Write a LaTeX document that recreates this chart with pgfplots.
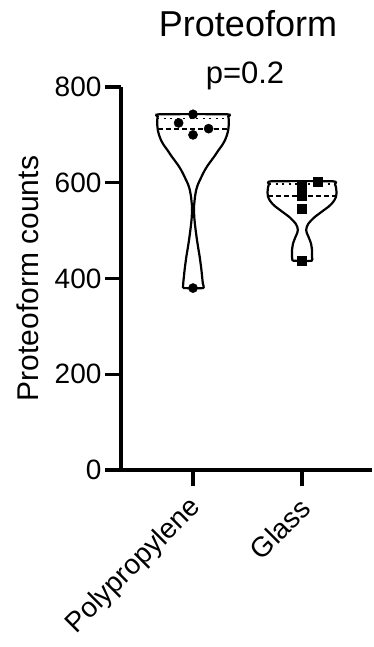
\documentclass[border=0pt]{standalone}
\usepackage{fontspec}
\setmainfont{Liberation Sans}
\usepackage{pgfplots}
\pgfplotsset{compat=1.18}
\begin{document}
\begin{tikzpicture}
\useasboundingbox (-121pt,-177pt) rectangle (253pt,470pt);
\begin{axis}[
  at={(0pt,0pt)}, anchor=south west,
  scale only axis, width=251pt, height=383pt,
  xmin=-0.6606, xmax=1.642, ymin=0, ymax=800,
  axis x line*=bottom, axis y line*=left,
  axis line style={line width=3.2pt, black},
  xtick={0,1}, xticklabels={Polypropylene,Glass},
  ytick={0,200,400,600,800},
  tick align=outside, major tick length=16pt,
  major tick style={line width=3.2pt, black},
  tick label style={font=\fontsize{28}{33}\selectfont},
  /pgf/number format/assume math mode=true,
  xticklabel style={xshift=6pt, yshift=-15pt, rotate=45, anchor=east},
  every axis y label/.style={at={(axis description cs:-0.3705,0.5)}, rotate=90, anchor=center},
  ylabel={Proteoform counts},
  ylabel style={font=\fontsize{30}{35}\selectfont},
  clip=false,
]
% Polypropylene violin
\addplot[black, line width=2.2pt, smooth, tension=0.3] coordinates {
(-0.0917,380) (-0.0899,390) (-0.0853,400) (-0.0761,420) (-0.0615,445) (-0.0505,460)
(-0.0367,480) (-0.0248,500) (-0.0165,516) (-0.0110,530) (-0.0092,550) (-0.0183,571)
(-0.0294,585) (-0.0440,596) (-0.0642,606) (-0.0872,617) (-0.1101,627) (-0.1376,637)
(-0.1697,647) (-0.2018,657) (-0.2339,668) (-0.2661,678) (-0.2936,689) (-0.3119,700)
(-0.3229,710) (-0.3275,720) (-0.3284,731) (-0.3239,738) (-0.3119,743)
(0.3119,743) (0.3239,738) (0.3284,731) (0.3275,720) (0.3229,710) (0.3119,700)
(0.2936,689) (0.2661,678) (0.2339,668) (0.2018,657) (0.1697,647) (0.1376,637)
(0.1101,627) (0.0872,617) (0.0642,606) (0.0440,596) (0.0294,585) (0.0183,571)
(0.0092,550) (0.0110,530) (0.0165,516) (0.0248,500) (0.0367,480) (0.0505,460)
(0.0615,445) (0.0761,420) (0.0853,400) (0.0899,390) (0.0917,380) (-0.0917,380)
};
% Glass violin
\addplot[black, line width=2.2pt, smooth, tension=0.3] coordinates {
(0.9128,437) (0.9083,445) (0.9083,459) (0.9174,473) (0.9404,487) (0.9560,495)
(0.9615,501) (0.9560,508) (0.9404,515) (0.9128,522) (0.8807,529) (0.8394,536)
(0.7982,543) (0.7569,550) (0.7248,557) (0.7018,564) (0.6881,571) (0.6835,580)
(0.6881,590) (0.6972,597) (0.7156,603)
(1.2844,603) (1.3028,597) (1.3119,590) (1.3165,580) (1.3119,571) (1.2982,564)
(1.2752,557) (1.2431,550) (1.2018,543) (1.1606,536) (1.1193,529) (1.0872,522)
(1.0596,515) (1.0440,508) (1.0385,501) (1.0440,495) (1.0596,487) (1.0826,473)
(1.0917,459) (1.0917,445) (1.0872,437) (0.9128,437)
};
% medians (dashed) and upper quartiles (dotted)
\addplot[black, line width=1.8pt, dash pattern=on 5pt off 3pt] coordinates {(-0.321,713) (0.321,713)};
\addplot[black, line width=1.8pt, dash pattern=on 5pt off 3pt] coordinates {(0.687,573) (1.313,573)};
\addplot[black, line width=1.8pt, dash pattern=on 2pt off 4.5pt] coordinates {(-0.326,734) (0.326,734)};
\addplot[black, line width=1.8pt, dash pattern=on 2pt off 4.5pt] coordinates {(0.699,597.5) (1.301,597.5)};
% points
\addplot[only marks, mark=*, mark size=4.6pt, mark options={fill=black, draw=black, line width=0.4pt}] coordinates {
(0,743) (-0.132,725) (0.143,713) (0,700) (0,380)};
\addplot[only marks, mark=square*, mark size=4.5pt, mark options={fill=black, draw=black, line width=0.4pt}] coordinates {
(1.147,603) (1,592) (1,573) (1,545) (1,437)};
\node[anchor=base, font=\fontsize{36}{42}\selectfont] at (rel axis cs:0.506,1) [yshift=50pt] {Proteoform};
\node[anchor=base, font=\fontsize{31}{36}\selectfont] at (axis cs:0.477,800) [yshift=3pt] {p=0.2};
\end{axis}
\end{tikzpicture}
\end{document}
